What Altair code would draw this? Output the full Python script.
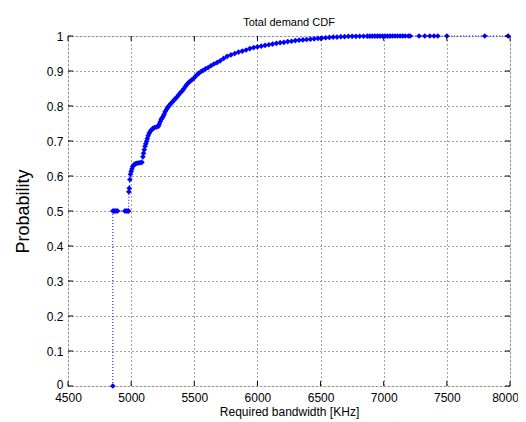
import altair as alt
import pandas as pd

bandwidth = [4855, 4855, 4862, 4870, 4878, 4886, 4893, 4950, 4958, 4966, 4975, 4980,
             4982, 4985, 4990, 4995, 5000, 5006, 5012, 5020, 5030, 5040, 5055, 5070, 5085,
             5093, 5098, 5104, 5110, 5116, 5122, 5128, 5135, 5143, 5152, 5162, 5172, 5185,
             5200, 5215, 5222, 5230, 5238, 5246, 5254, 5262, 5270, 5280, 5290, 5300, 5312,
             5325, 5338, 5350, 5363, 5377, 5390, 5404, 5417, 5430, 5442, 5455, 5468, 5482,
             5496, 5510, 5524, 5538, 5553, 5570, 5589, 5610, 5632, 5655, 5680, 5705, 5732,
             5760, 5790, 5820, 5850, 5880, 5910, 5940, 5970, 6000, 6030, 6060, 6090, 6120,
             6150, 6180, 6210, 6240, 6270, 6300, 6330, 6360, 6390, 6420, 6450, 6480, 6510,
             6540, 6570, 6600, 6630, 6660, 6690, 6720, 6750, 6780, 6810, 6840, 6870, 6890,
             6910, 6930, 6950, 6970, 6990, 7010, 7030, 7050, 7070, 7090, 7110, 7130, 7150,
             7170, 7195, 7210, 7280, 7325, 7365, 7398, 7428, 7500, 7800, 7985]
probability = [0.0, 0.5, 0.5, 0.5, 0.5, 0.5, 0.5, 0.5, 0.5, 0.5, 0.5, 0.5,
               0.555, 0.565, 0.59, 0.605, 0.613, 0.62, 0.627, 0.631, 0.634, 0.636, 0.637, 0.638, 0.639,
               0.655, 0.665, 0.675, 0.685, 0.692, 0.699, 0.707, 0.715, 0.722, 0.728, 0.732, 0.736, 0.738,
               0.74, 0.742, 0.748, 0.755, 0.762, 0.766, 0.771, 0.777, 0.784, 0.79, 0.796, 0.801, 0.806,
               0.811, 0.816, 0.821, 0.826, 0.832, 0.838, 0.843, 0.849, 0.856, 0.862, 0.867, 0.871, 0.875,
               0.879, 0.885, 0.89, 0.894, 0.898, 0.902, 0.906, 0.91, 0.915, 0.92, 0.924, 0.929, 0.936,
               0.942, 0.946, 0.95, 0.954, 0.957, 0.96, 0.964, 0.967, 0.969, 0.971, 0.973, 0.975, 0.977,
               0.979, 0.981, 0.982, 0.984, 0.985, 0.987, 0.988, 0.989, 0.99, 0.991, 0.992, 0.993, 0.994,
               0.995, 0.996, 0.997, 0.997, 0.998, 0.998, 0.999, 0.999, 0.999, 0.9993, 0.9994, 0.9995, 0.9996,
               0.9996, 0.9997, 0.9997, 0.9997, 0.9998, 0.9998, 0.9998, 0.9998, 0.9999, 0.9999, 0.9999, 0.9999, 0.9999,
               0.9999, 0.9999, 0.9999, 0.99993, 0.99995, 0.99996, 0.99997, 0.99998, 0.99999, 0.999995, 1.0]

x_ticks = [4500, 5000, 5500, 6000, 6500, 7000, 7500, 8000]
y_ticks = [0, 0.1, 0.2, 0.3, 0.4, 0.5, 0.6, 0.7, 0.8, 0.9, 1]

df = pd.DataFrame({"bw": bandwidth, "p": probability, "order": list(range(len(bandwidth)))})
xt = pd.DataFrame({"bw": x_ticks})
yt = pd.DataFrame({"p": y_ticks})

FONT = "Liberation Sans"
XS = alt.Scale(domain=[4500, 8000], nice=False, zero=False)
YS = alt.Scale(domain=[0, 1], nice=False)

x_axis = alt.Axis(values=x_ticks, title="Required bandwidth [KHz]", format="d",
                  grid=True, gridColor="#444", gridDash=[1, 3], gridWidth=1,
                  ticks=False, domain=False, labelFont=FONT, labelFontSize=12,
                  labelColor="#000", labelPadding=6, titleFont=FONT, titleFontSize=12,
                  titleFontWeight="normal", titleColor="#000", titlePadding=3,
                  labelFlush=False, labelOverlap=False, labelBound=False,
                  labelOffset={"expr": "datum.value == 8000 ? -5 : 0"})
y_axis = alt.Axis(values=y_ticks, title="Probability", format="~g", grid=True,
                  gridColor="#444", gridDash=[1, 3], gridWidth=1, ticks=False,
                  domain=False, labelFont=FONT, labelFontSize=12, labelColor="#000",
                  labelPadding=5, titleFont=FONT, titleFontSize=18,
                  titleFontWeight="normal", titleColor="#000", titlePadding=14,
                  labelFlush=False, labelOverlap=False,
                  labelOffset={"expr": "datum.value == 0 ? -2 : 0"})

x_enc = alt.X("bw:Q", scale=XS, axis=x_axis)
y_enc = alt.Y("p:Q", scale=YS, axis=y_axis)

line = alt.Chart(df).mark_line(color="#0000ff", strokeDash=[1, 2], strokeWidth=1).encode(
    x=x_enc, y=y_enc, order="order:Q")
pts = alt.Chart(df).mark_point(color="#0000ff", filled=True, opacity=1, size=32,
                               shape="diamond").encode(x=x_enc, y=y_enc)

# MATLAB-style inward ticks on all four sides
tick_style = dict(color="#000", strokeWidth=1)
bt = alt.Chart(xt).mark_rule(**tick_style).encode(
    x=x_enc, y=alt.datum(0, scale=YS, axis=y_axis), y2=alt.datum(0.014))
tt = alt.Chart(xt).mark_rule(**tick_style).encode(
    x=x_enc, y=alt.datum(1, scale=YS, axis=y_axis), y2=alt.datum(0.986))
lt = alt.Chart(yt).mark_rule(**tick_style).encode(
    y=y_enc, x=alt.datum(4500, scale=XS, axis=x_axis), x2=alt.datum(4540))
rt = alt.Chart(yt).mark_rule(**tick_style).encode(
    y=y_enc, x=alt.datum(8000, scale=XS, axis=x_axis), x2=alt.datum(7960))

chart = alt.layer(line, pts, bt, tt, lt, rt).properties(
    width=442, height=350,
    title=alt.TitleParams("Total demand CDF", font=FONT, fontSize=11, fontWeight="normal",
                          color="#000", offset=2),
    autosize=alt.AutoSizeParams(type="none"),
    padding={"left": 60, "top": 28, "right": 8, "bottom": 40},
).configure_view(stroke="#000", strokeWidth=1).configure(background="white")

chart.save("out.html", embed_options={"renderer": "svg", "actions": False})
